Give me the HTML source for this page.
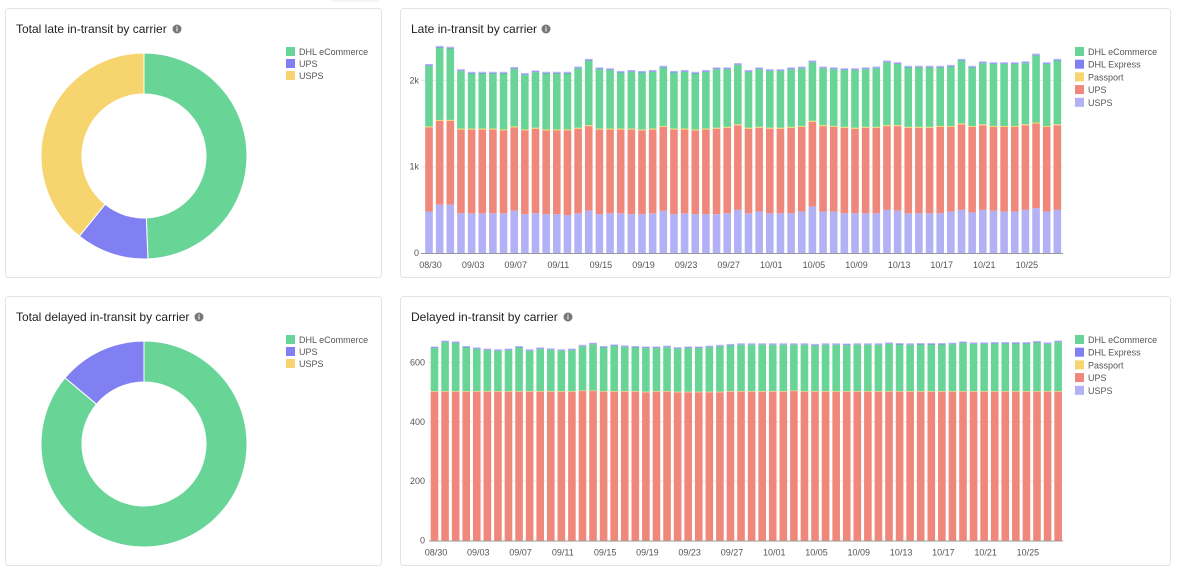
<!DOCTYPE html>
<html><head><meta charset="utf-8">
<style>
body{margin:0;background:#fff;font-family:"Liberation Sans",sans-serif;}
svg{display:block}
</style></head>
<body>
<svg id="root" width="1177" height="572" viewBox="0 0 1177 572">
  <rect x="330" y="-6" width="50" height="8" rx="4" fill="#f3f4f6"/>
  <g>
    <rect x="5.5" y="8.5" width="376" height="269" rx="3" fill="#fff" stroke="#e1e3e6"/>
    <text x="16" y="33" font-size="12" fill="#222">Total late in-transit by carrier</text>
    <circle cx="177" cy="29" r="4.5" fill="#777"/><text x="177" y="31.5" font-size="7" fill="#fff" text-anchor="middle" font-weight="bold">i</text>
    <g id="donut1"></g>
    <g id="leg1"></g>
  </g>
  <g>
    <rect x="400.5" y="8.5" width="770" height="269" rx="3" fill="#fff" stroke="#e1e3e6"/>
    <text x="411" y="33" font-size="12" fill="#222">Late in-transit by carrier</text>
    <circle cx="546" cy="29" r="4.5" fill="#777"/><text x="546" y="31.5" font-size="7" fill="#fff" text-anchor="middle" font-weight="bold">i</text>
    <g id="bars1"></g>
    <g id="leg2"></g>
  </g>
  <g>
    <rect x="5.5" y="296.5" width="376" height="269" rx="3" fill="#fff" stroke="#e1e3e6"/>
    <text x="16" y="321" font-size="12" fill="#222">Total delayed in-transit by carrier</text>
    <circle cx="199" cy="317" r="4.5" fill="#777"/><text x="199" y="319.5" font-size="7" fill="#fff" text-anchor="middle" font-weight="bold">i</text>
    <g id="donut2"></g>
    <g id="leg3"></g>
  </g>
  <g>
    <rect x="400.5" y="296.5" width="770" height="269" rx="3" fill="#fff" stroke="#e1e3e6"/>
    <text x="411" y="321" font-size="12" fill="#222">Delayed in-transit by carrier</text>
    <circle cx="568" cy="317" r="4.5" fill="#777"/><text x="568" y="319.5" font-size="7" fill="#fff" text-anchor="middle" font-weight="bold">i</text>
    <g id="bars2"></g>
    <g id="leg4"></g>
  </g>
</svg>
<script>
const NS="http://www.w3.org/2000/svg";
const C={dhle:"#68d596",dhlx:"#8080f2",pass:"#f6d56e",ups:"#ef887b",usps:"#b2b1f6"};
// donut data
const donutLateLabels=["DHL eCommerce","UPS","USPS"];
const donutLateValues=[49.4,11.4,39.2];
const donutDelayedLabels=["DHL eCommerce","UPS","USPS"];
const donutDelayedValues=[86.1,13.9,0];
// bar data
const dayLabels=[];
(function(){const d=new Date(2023,7,30);for(let i=0;i<60;i++){const x=new Date(d.getTime()+i*86400000);dayLabels.push(String(x.getMonth()+1).padStart(2,"0")+"/"+String(x.getDate()).padStart(2,"0"));}})();
const lateUSPS=[0.48,0.56,0.56,0.46,0.46,0.46,0.46,0.46,0.49,0.45,0.46,0.45,0.45,0.44,0.46,0.49,0.45,0.46,0.46,0.45,0.45,0.46,0.49,0.45,0.46,0.45,0.45,0.45,0.46,0.50,0.46,0.48,0.46,0.46,0.46,0.48,0.54,0.48,0.48,0.46,0.46,0.46,0.46,0.50,0.49,0.46,0.46,0.46,0.46,0.48,0.50,0.47,0.50,0.49,0.48,0.48,0.50,0.52,0.48,0.50];
const lateUPSTop=[1.455,1.53,1.53,1.43,1.43,1.43,1.43,1.42,1.455,1.42,1.44,1.42,1.42,1.42,1.44,1.47,1.43,1.43,1.43,1.43,1.42,1.43,1.46,1.43,1.43,1.42,1.43,1.44,1.45,1.48,1.44,1.45,1.44,1.44,1.45,1.46,1.52,1.47,1.46,1.45,1.44,1.45,1.45,1.47,1.47,1.45,1.45,1.45,1.46,1.46,1.49,1.46,1.48,1.46,1.46,1.46,1.48,1.50,1.46,1.48];
const lateTotal=[2.19,2.40,2.39,2.13,2.10,2.10,2.10,2.10,2.155,2.085,2.115,2.10,2.10,2.10,2.16,2.25,2.15,2.14,2.11,2.12,2.11,2.12,2.17,2.11,2.12,2.10,2.12,2.15,2.15,2.20,2.12,2.15,2.13,2.13,2.15,2.16,2.23,2.16,2.15,2.14,2.14,2.15,2.16,2.23,2.21,2.17,2.17,2.17,2.17,2.18,2.25,2.17,2.22,2.21,2.21,2.21,2.22,2.31,2.21,2.25];
const delayedUPS=[502,502,502,502,502,502,502,502,502,502,502,502,502,502,504,504,502,502,502,502,500,502,502,500,500,500,500,500,502,502,502,502,502,502,504,502,502,502,502,502,502,502,502,502,502,502,502,502,502,502,502,502,502,502,502,502,502,502,502,502];
const delayedTotal=[654,674,671,656,651,647,645,647,656,645,651,648,645,647,660,667,656,661,658,656,654,654,657,652,654,654,657,660,663,665,665,665,665,665,665,665,663,665,665,664,665,665,665,668,666,665,666,666,666,667,671,668,668,669,669,669,669,673,668,674];
const yTicksLate=[0,1,2],yTickLabelsLate=["0","1k","2k"];
const yTicksDelayed=[0,200,400,600],yTickLabelsDelayed=["0","200","400","600"];
const xTickEvery=4;

function el(tag,attrs,parent){const e=document.createElementNS(NS,tag);for(const k in attrs)e.setAttribute(k,attrs[k]);parent.appendChild(e);return e;}
function txt(s,attrs,parent){const t=el("text",attrs,parent);t.textContent=s;return t;}

function donut(g,cx,cy,R,r,labels,values,colors){
  const tot=values.reduce((a,b)=>a+b,0);let a=0;
  values.forEach((v,i)=>{
    if(v<=0)return;
    const a0=a/tot*2*Math.PI,a1=(a+v)/tot*2*Math.PI;a+=v;
    const p=(ang,rad)=>[cx+rad*Math.sin(ang),cy-rad*Math.cos(ang)];
    const lg=(a1-a0)>Math.PI?1:0;
    const [x0,y0]=p(a0,R),[x1,y1]=p(a1,R),[x2,y2]=p(a1,r),[x3,y3]=p(a0,r);
    const path=el("path",{d:`M${x0},${y0}A${R},${R} 0 ${lg} 1 ${x1},${y1}L${x2},${y2}A${r},${r} 0 ${lg} 0 ${x3},${y3}Z`,fill:colors[i],stroke:"#fff","stroke-width":1},g);
    
    
  });
}
function legend(g,x,y,labels,colors,gap){
  labels.forEach((l,i)=>{
    const it=el("g",{},g);
    
    
    el("rect",{x:x,y:y+i*gap,width:9,height:9,fill:colors[i]},it);
    txt(l,{x:x+13,y:y+i*gap+8,"font-size":9,fill:"#555"},it);
  });
}
donut(document.getElementById("donut1"),144,156,103,62,donutLateLabels,donutLateValues,[C.dhle,C.dhlx,C.pass]);
legend(document.getElementById("leg1"),286,47,donutLateLabels,[C.dhle,C.dhlx,C.pass],12);
donut(document.getElementById("donut2"),144,444,103,62,donutDelayedLabels,donutDelayedValues,[C.dhle,C.dhlx,C.pass]);
legend(document.getElementById("leg3"),286,335,donutDelayedLabels,[C.dhle,C.dhlx,C.pass],12);
const barLeg=["DHL eCommerce","DHL Express","Passport","UPS","USPS"],barLegC=[C.dhle,C.dhlx,C.pass,C.ups,C.usps];
legend(document.getElementById("leg2"),1075,47,barLeg,barLegC,12.7);
legend(document.getElementById("leg4"),1075,335,barLeg,barLegC,12.7);

function barChart(g,opt){
  const {x0,step,bw,yBase,yScale,ticks,tickLabels,left,right,labelX,stacks}=opt;
  const X=i=>x0+i*step, Y=v=>yBase-v*yScale;
  ticks.forEach((t,i)=>{
    if(t>0){const gl=el("line",{x1:left,x2:right,y1:Y(t),y2:Y(t),stroke:"#e6e6e6","stroke-width":1},g);}
    const tl=txt(tickLabels[i],{x:labelX,y:Y(t)+3,"font-size":9,fill:"#555","text-anchor":"end"},g);
    
  });
  dayLabels.forEach((d,i)=>{
    let base=0;
    stacks.forEach(s=>{
      const v=s.vals[i];if(v<=0)return;
      const r=el("rect",{x:X(i)-bw/2,y:Y(base+v),width:bw,height:v*yScale,fill:s.color},g);
      
      
      base+=v;
    });
    if(i%xTickEvery===0){const t=txt(d,{x:X(i)+1.5,y:yBase+15,"font-size":9,fill:"#555","text-anchor":"middle"},g);}
  });
  const ax=el("line",{x1:left,x2:right,y1:yBase+0.5,y2:yBase+0.5,stroke:"#999","stroke-width":1},g);
  
}
const k=0.012;
barChart(document.getElementById("bars1"),{x0:429,step:10.65,bw:7.6,yBase:253,yScale:86.3,ticks:yTicksLate,tickLabels:yTickLabelsLate,left:421,right:1063,labelX:419,
  stacks:[
   {name:"usps",color:C.usps,vals:lateUSPS},
   {name:"ups",color:C.ups,vals:lateUPSTop.map((v,i)=>v-lateUSPS[i])},
   {name:"passport",color:C.pass,vals:lateUPSTop.map(()=>k)},
   {name:"dhl-ecommerce",color:C.dhle,vals:lateTotal.map((v,i)=>v-lateUPSTop[i]-2*k-0.008)},
   {name:"dhl-express",color:C.dhlx,vals:lateTotal.map(()=>0.008)},
   {name:"usps-top",color:C.usps,vals:lateTotal.map(()=>k)}]});
barChart(document.getElementById("bars2"),{x0:434.5,step:10.57,bw:7.6,yBase:540.5,yScale:0.2965,ticks:yTicksDelayed,tickLabels:yTickLabelsDelayed,left:429,right:1063,labelX:425,
  stacks:[
   {name:"ups",color:C.ups,vals:delayedUPS},
   {name:"passport",color:C.pass,vals:delayedUPS.map(()=>2)},
   {name:"dhl-ecommerce",color:C.dhle,vals:delayedTotal.map((v,i)=>v-delayedUPS[i]-7)},
   {name:"dhl-express",color:C.dhlx,vals:delayedTotal.map(()=>2)},
   {name:"usps",color:C.usps,vals:delayedTotal.map(()=>3)}]});
</script>
</body></html>
